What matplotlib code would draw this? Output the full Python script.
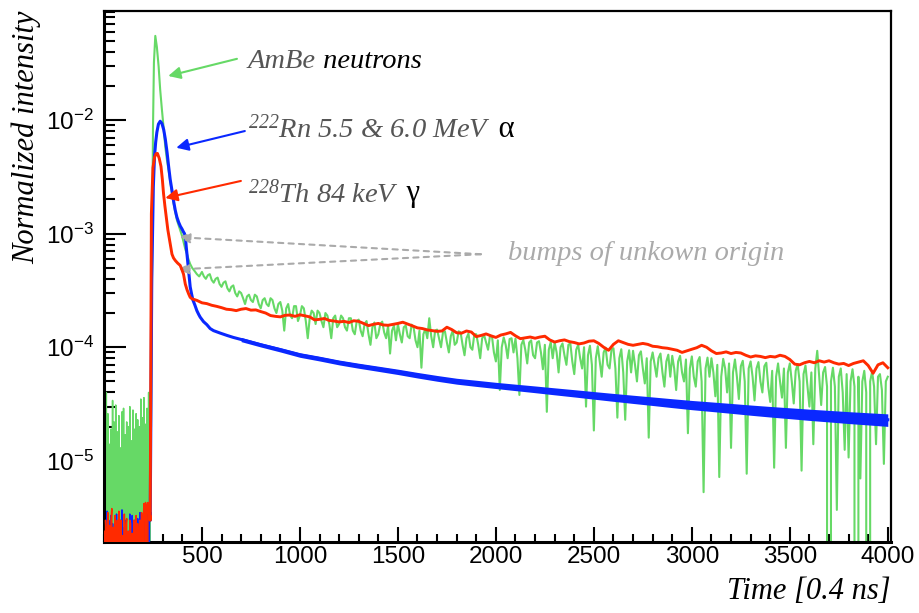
import numpy as np
import matplotlib
matplotlib.use("Agg")
import matplotlib.pyplot as plt
from matplotlib.ticker import FixedLocator, LogLocator, MultipleLocator, NullFormatter

plt.rcParams["font.family"] = ["Liberation Sans", "DejaVu Sans"]
plt.rcParams["mathtext.default"] = "regular"

# Time bins in units of 0.4 ns, intensities in units of 1e-5

# baseline before the trigger
t_pre = np.arange(0, 240, 4)
green_pre = [0, 3.8, 0, 4.0, 0, 2.6, 0, 1.4, 0, 1.9, 0, 3.4, 0, 2.2, 0, 3.1, 0, 1.8, 0, 2.5,
             0, 1.3, 0, 2.7, 0, 2.9, 0, 1.7, 0, 2.2, 0, 2.0, 0, 3.0, 0, 1.5, 0, 2.8, 0, 1.9,
             0, 2.6, 0, 2.3, 0, 2.0, 0, 3.5, 0, 2.4, 0, 3.6, 0, 2.1, 0, 2.9, 0, 4.0, 0, 3.4]
red_pre = [0.24, 0, 0.3, 0.22, 0, 0.35, 0, 0.27, 0, 0.3, 0.38, 0, 0.26, 0, 0.33, 0.22, 0, 0.3, 0, 0.36,
           0, 0.25, 0.3, 0, 0.22, 0, 0.34, 0, 0.27, 0.31, 0, 0.24, 0, 0.3, 0.28, 0, 0.23, 0, 0.3, 0,
           0.26, 0.33, 0, 0.28, 0, 0.22, 0.3, 0, 0.35, 0, 0.28, 0.42, 0, 0.43, 0.4, 0, 0.43, 0.35, 0.3, 0.32]
blue_pre = [0, 0.23, 0, 0, 0.36, 0, 0.3, 0, 0, 0.33, 0, 0.28, 0, 0.25, 0, 0, 0.34, 0, 0.22, 0,
            0, 0.3, 0, 0.37, 0, 0, 0.26, 0, 0.3, 0, 0, 0.24, 0, 0.34, 0.28, 0, 0.33, 0, 0, 0.3,
            0, 0.25, 0, 0.31, 0, 0, 0.35, 0, 0.24, 0, 0.3, 0, 0.33, 0, 0.28, 0, 0.36, 0, 0.3, 0.34]

# AmBe neutrons
green_peak_t = [240, 246, 250, 255, 262, 270, 279, 287, 296, 304, 313, 321, 330, 338, 347, 355,
                364, 372, 381, 390, 398, 405, 411, 416, 423, 432, 440, 450, 462, 474, 486]
green_peak = [2.0, 60, 800, 3200, 5500, 4400, 2950, 1840, 1220, 870, 580, 450, 360, 290, 230, 185,
              155, 132, 118, 106, 96, 86, 78, 72, 67, 59, 54, 50, 47, 44, 42]
green_tail_t = np.arange(500, 4001, 10)
green_tail = [46, 42, 40, 43, 44, 39, 37, 40, 41, 36,
              34, 37, 38, 33, 31, 34, 35, 30, 28, 31,
              30, 27, 24, 28, 29, 26, 25, 29, 28, 24,
              22, 26, 27, 24, 23, 27, 26, 22, 20, 24,
              25, 21, 14, 22, 24, 19, 18, 23, 23, 17,
              19, 23, 22, 17, 12, 18, 21, 20, 16, 21,
              20, 17, 15, 20, 19, 16, 12, 18, 19, 15,
              16, 19, 18, 15, 14, 18, 18, 14, 13, 17,
              17.5, 14, 12.5, 16, 17, 13, 10.5, 15, 16.5, 12,
              13, 16, 16.8, 13.5, 12, 15.5, 8.8, 14, 15.5, 11.5,
              16, 13, 11, 15, 15.5, 12.5, 12, 15.8, 15, 11.5,
              10, 14, 6.6, 13, 14.5, 12, 18, 12.5, 10, 14,
              14.3, 12, 10, 13.5, 13.8, 11, 9, 12.5, 14, 10.5,
              11, 13.8, 13.5, 10.5, 8.5, 12, 13.2, 10, 9.5, 13,
              13, 10.5, 8, 12, 12.8, 11, 9.5, 12.6, 12.5, 9,
              7.5, 11.5, 4.2, 10, 12.2, 10.5, 8, 11.8, 12, 9,
              11.9, 8, 3.8, 10.5, 11.6, 9.5, 7.2, 11, 11.5, 8.5,
              8, 11, 11.3, 9, 6.4, 10.5, 2.7, 9.5, 11.1, 8,
              11, 9, 6, 10, 10.8, 8.5, 7, 10.5, 10.8, 7.5,
              5.8, 9.5, 10.5, 8, 6.5, 10, 3, 8.5, 10.3, 7,
              1.85, 8, 10.2, 7.5, 5.5, 9, 9.9, 7, 6.5, 9.5,
              9.8, 6.5, 2.4, 8, 9.6, 6, 2.3, 7.5, 9.4, 6,
              9.3, 7, 5, 8.5, 9.2, 6.5, 4.8, 8, 1.6, 7.5,
              9, 7, 5.5, 8, 8.8, 6, 4.5, 7.5, 8.6, 5.5,
              8.4, 6.5, 4.2, 7.5, 8.4, 6, 5, 7.8, 1.75, 6.5,
              8.3, 5.5, 4.5, 7.5, 8.2, 5, 0.53, 6.5, 8.1, 5.5,
              8, 6, 3.7, 7, 0.72, 5.5, 7.9, 6.5, 4, 7.2,
              1.3, 6, 7.8, 5.5, 3.5, 6.8, 7.6, 5, 0.77, 6.5,
              7.5, 5.5, 3.4, 6.5, 7.4, 5, 4, 6.8, 7.3, 4.5,
              3.3, 6.2, 0.87, 5.5, 7.2, 5, 3.6, 6.5, 1.3, 6,
              7.2, 5, 3.2, 6.2, 7.1, 5, 0.82, 5.8, 6.9, 4.5,
              3, 6, 1.4, 6.5, 9.3, 5.5, 3.1, 6, 6.7, 4.5,
              0, 5, 6.6, 4.5, 0.37, 5.5, 6.5, 4, 1.25, 5.8,
              1.07, 5, 6.4, 4.5, 0, 5.5, 0.7, 5, 6.2, 4,
              0, 5, 6.1, 4.5, 1.4, 5.5, 5.8, 4.2, 0.94, 5,
              5.5]

# 222Rn alphas
blue_peak_t = [236, 244, 252, 258, 264, 270, 278, 287, 296, 305, 313, 322, 330, 338, 347, 355,
               364, 372, 381, 390, 398, 405, 411, 416, 420, 426, 432, 436, 440, 447, 454, 464,
               474, 483, 491, 508, 525, 542, 559, 594, 628, 660]
blue_peak = [0.3, 40, 260, 480, 640, 780, 920, 975, 930, 820, 680, 520, 390, 300, 240, 195,
             160, 140, 126, 116, 110, 104, 100, 92, 76, 60, 47, 40, 34, 29.5, 26, 23.5,
             21, 19.5, 18.4, 16.8, 15.8, 14.6, 14.0, 13.3, 12.7, 12.2]
# tail: running level plus the spread of the bin-to-bin scatter
blue_tail_t = np.arange(700, 4001, 100)
blue_tail = [11.7, 10.5, 9.5, 8.55, 7.95, 7.35, 6.88, 6.47, 6.08, 5.68,
             5.33, 5.03, 4.82, 4.62, 4.44, 4.27, 4.1, 3.94, 3.78, 3.63,
             3.49, 3.36, 3.23, 3.11, 3.01, 2.91, 2.81, 2.72, 2.64, 2.56,
             2.49, 2.42, 2.36, 2.3]
blue_hi = [12.2, 10.95, 9.92, 8.95, 8.33, 7.71, 7.23, 6.81, 6.41, 6.0,
           5.64, 5.33, 5.12, 4.91, 4.73, 4.56, 4.39, 4.23, 4.07, 3.92,
           3.78, 3.65, 3.52, 3.4, 3.3, 3.2, 3.1, 3.01, 2.93, 2.85,
           2.78, 2.71, 2.65, 2.59]
blue_lo = [11.2, 10.05, 9.08, 8.15, 7.57, 6.99, 6.53, 6.13, 5.75, 5.36,
           5.02, 4.73, 4.52, 4.33, 4.15, 3.98, 3.81, 3.65, 3.49, 3.34,
           3.2, 3.07, 2.94, 2.82, 2.72, 2.62, 2.52, 2.43, 2.35, 2.27,
           2.2, 2.13, 2.07, 2.01]

# 228Th gammas
red_peak_t = [236, 242, 250, 258, 266, 273, 282, 291, 298, 304, 311, 318, 326, 335, 341, 347,
              355, 364, 376, 389, 398, 406, 415, 424, 432, 440, 449]
red_peak = [0.3, 150, 380, 470, 505, 508, 460, 390, 300, 225, 175, 140, 108, 87, 75, 66,
            61, 58, 55, 52.5, 48, 44, 36, 32, 29.5, 27.5, 26.7]
red_tail_t = np.arange(475, 4001, 25)
red_tail = [25.8, 24.6, 24.2, 23.4, 22.9, 22.3, 21.6, 21.4, 21.0, 21.6,
            21.9, 21.2, 21.3, 20.6, 20.0, 19.0, 18.7, 18.5, 19.1, 19.2,
            18.7, 19.3, 18.9, 18.5, 17.4, 17.6, 17.9, 17.2, 17.0, 16.7,
            16.9, 16.5, 17.1, 16.9, 16.2, 15.5, 15.9, 16.2, 15.7, 15.6,
            15.9, 16.2, 16.6, 16.0, 15.4, 14.8, 14.6, 14.2, 14.0, 13.8,
            13.9, 15.0, 14.3, 13.4, 13.3, 13.9, 13.6, 12.4, 12.7, 13.1,
            12.6, 12.2, 12.8, 13.1, 13.5, 12.6, 11.9, 12.1, 12.3, 12.0,
            12.3, 12.5, 11.6, 11.1, 11.4, 11.6, 11.2, 11.0, 10.7, 10.9,
            11.3, 11.4, 10.8, 10.0, 9.4, 10.6, 11.4, 11.0, 10.6, 10.4,
            10.6, 10.8, 10.6, 10.2, 10.1, 9.9, 9.8, 9.6, 9.4, 9.0,
            9.3, 9.6, 9.9, 10.4, 10.0, 9.3, 8.8, 8.9, 9.1, 8.8,
            9.0, 8.9, 8.5, 8.2, 8.4, 8.3, 8.1, 8.3, 8.2, 8.5,
            8.3, 7.8, 7.1, 7.0, 7.3, 7.5, 7.3, 7.6, 7.4, 7.6,
            7.3, 7.1, 7.2, 6.9, 7.2, 7.4, 7.6, 6.9, 5.9, 7.0,
            7.3, 6.6]

x_ticks = [500, 1000, 1500, 2000, 2500, 3000, 3500, 4000]

GREEN = "#66d966"
BLUE = "#0a28ff"
RED = "#ff2a00"


def series(*parts):
    t = np.concatenate([np.asarray(p[0], float) for p in parts])
    v = np.concatenate([np.asarray(p[1], float) for p in parts]) * 1e-5
    return t, v


fig = plt.figure(figsize=(9.2, 6.13), dpi=100)
ax = fig.add_axes([0.1130, 0.1158, 0.8554, 0.8662])
ax.set_yscale("log", nonpositive="clip")

# the sparse pre-trigger counts are drawn thinner than the pulses
for pre, peak_t, peak, tail_t, tail, color, lw, z in [
        (green_pre, green_peak_t, green_peak, green_tail_t, green_tail, GREEN, 1.5, 2),
        (blue_pre, blue_peak_t, blue_peak, blue_tail_t, blue_tail, BLUE, 2.2, 3),
        (red_pre, red_peak_t, red_peak, red_tail_t, red_tail, RED, 2.1, 4)]:
    t, v = series((t_pre, pre))
    ax.plot(t, v, color=color, lw=1.1, zorder=z)
    t, v = series((t_pre[-1:], pre[-1:]), (peak_t, peak), (tail_t, tail))
    ax.plot(t, v, color=color, lw=lw, zorder=z)

t, lo = series((blue_tail_t, blue_lo))
t, hi = series((blue_tail_t, blue_hi))
ax.fill_between(t, lo, hi, color=BLUE, lw=0, zorder=3)

ax.set_xlim(0, 4016)
ax.set_ylim(1.93e-6, 0.091)

# ROOT-like axes: ticks inside, left and bottom only
ax.xaxis.set_major_locator(FixedLocator(x_ticks))
ax.xaxis.set_minor_locator(MultipleLocator(100))
ax.yaxis.set_major_locator(LogLocator(base=10, numticks=20))
ax.yaxis.set_minor_locator(LogLocator(base=10, subs=np.arange(2, 10), numticks=20))
ax.yaxis.set_minor_formatter(NullFormatter())
ax.tick_params(axis="both", which="both", direction="in", top=False, right=False,
               labelsize=17.5, width=1.5)
ax.tick_params(axis="y", which="major", length=16, pad=7)
ax.tick_params(axis="y", which="minor", length=8)
ax.tick_params(axis="x", which="major", length=11, pad=3)
ax.tick_params(axis="x", which="minor", length=5.5)
for side in ("left", "bottom"):
    ax.spines[side].set_linewidth(2.2)
for side in ("top", "right"):
    ax.spines[side].set_linewidth(1.6)

serif = dict(family="Liberation Serif", style="italic", size=20.5)
ax.set_xlabel("Time [0.4 ns]", fontfamily="Liberation Serif", fontstyle="italic",
              fontsize=22, loc="right")
ax.xaxis.set_label_coords(1.0, -0.066)
ax.set_ylabel("Normalized intensity", fontfamily="Liberation Serif", fontstyle="italic",
              fontsize=22, loc="top")
ax.yaxis.set_label_coords(-0.080, 1.0)

GRAY = "#555555"
LIGHT = "#aaaaaa"

t1 = ax.text(0.183, 0.893, "AmBe", color=GRAY, transform=ax.transAxes, va="baseline", **serif)
ax.annotate(" neutrons", xy=(1, 0), xycoords=t1, va="bottom", color="black", **serif)

t2 = ax.text(0.183, 0.761, "$^{222}$Rn 5.5 & 6.0 MeV", color=GRAY, transform=ax.transAxes,
             va="baseline", **serif)
ax.annotate(" \u03b1", xy=(1, 0), xycoords=t2, va="bottom", color="black",
            family="Liberation Serif", size=22)

t3 = ax.text(0.183, 0.640, "$^{228}$Th 84 keV", color=GRAY, transform=ax.transAxes,
             va="baseline", **serif)
ax.annotate(" \u03b3", xy=(1, 0), xycoords=t3, va="bottom", color="black",
            family="Liberation Serif", size=22)

ax.text(0.513, 0.531, "bumps of unkown origin", color=LIGHT, transform=ax.transAxes,
        va="baseline", **serif)

arrow = dict(arrowstyle="-|>", lw=1.5, mutation_scale=18, shrinkA=0, shrinkB=0)
ax.annotate("", xy=(328, 0.0244), xytext=(0.169, 0.910), textcoords="axes fraction",
            arrowprops=dict(color=GREEN, **arrow))
ax.annotate("", xy=(369, 5.7e-3), xytext=(0.179, 0.774), textcoords="axes fraction",
            arrowprops=dict(color=BLUE, **arrow))
ax.annotate("", xy=(313, 2.06e-3), xytext=(0.174, 0.680), textcoords="axes fraction",
            arrowprops=dict(color=RED, **arrow))
dashed = dict(arrowstyle="-|>", lw=1.5, mutation_scale=16, shrinkA=0, shrinkB=0,
              color=LIGHT, linestyle=(0, (2.5, 2.5)))
ax.annotate("", xy=(384, 9.3e-4), xytext=(0.479, 0.542), textcoords="axes fraction",
            arrowprops=dashed)
ax.annotate("", xy=(379, 4.84e-4), xytext=(0.479, 0.542), textcoords="axes fraction",
            arrowprops=dashed)

fig.savefig("out.png", dpi=100)
